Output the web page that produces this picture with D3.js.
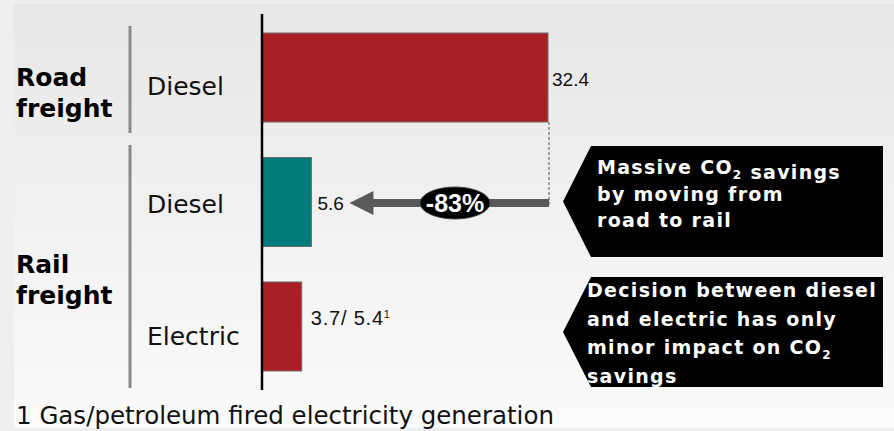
<!DOCTYPE html>
<html>
<head>
<meta charset="utf-8">
<script src="https://cdn.jsdelivr.net/npm/d3@7"></script>
<style>
  body { margin: 0; background: #efefef; }
  svg { display: block; }
</style>
</head>
<body>
<script>
// Data
let categories = ['Road Diesel', 'Rail Diesel', 'Rail Electric'];
let catLabels = ['Diesel', 'Diesel', 'Electric'];
let values = [32.4, 5.6, 4.5];
let valueLabels = ['32.4', '5.6', '3.7/ 5.4'];
let valueNotes = ['', '', '1'];
let barColors = ['#a81f26', '#007b7b', '#a81f26'];
let groups = [
  { name: ['Road', 'freight'], first: 'Road Diesel', last: 'Road Diesel' },
  { name: ['Rail', 'freight'], first: 'Rail Diesel', last: 'Rail Electric' }
];
let reduction = '-83%';
let callout1 = ['Massive CO|2| savings', 'by moving from', 'road to rail'];
let callout2 = ['Decision between diesel', 'and electric has only', 'minor impact on CO|2', 'savings'];
let footnote = '1 Gas/petroleum fired electricity generation';

// SVG
let width = 894, height = 431;

let svg = d3.select('body')
  .append('svg')
  .attr('width', width)
  .attr('height', height);

let defs = svg.append('defs');
let grad = defs.append('linearGradient')
  .attr('id', 'bg')
  .attr('x1', 0).attr('y1', 0).attr('x2', 0).attr('y2', 1);
grad.append('stop').attr('offset', '0%').attr('stop-color', '#e7e7e7');
grad.append('stop').attr('offset', '100%').attr('stop-color', '#fbfbfb');

svg.append('rect')
  .attr('x', 14).attr('y', 4)
  .attr('width', 880).attr('height', 424)
  .attr('fill', 'url(#bg)');

// scales
let xScale = d3.scaleLinear()
  .domain([0, 32.4])
  .range([262, 548]);

let yScale = d3.scaleBand()
  .domain(categories)
  .range([15.25, 388.75])
  .paddingInner(0.285)
  .paddingOuter(0.1425);

let mid = c => yScale(c) + yScale.bandwidth() / 2;

// bars
svg.selectAll('rect.bar')
  .data(categories)
  .enter()
  .append('rect')
  .attr('class', 'bar')
  .attr('x', xScale(0))
  .attr('y', d => yScale(d))
  .attr('width', (d, i) => xScale(values[i]) - xScale(0))
  .attr('height', yScale.bandwidth())
  .attr('fill', (d, i) => barColors[i])
  .attr('stroke', '#6e6e6e')
  .attr('stroke-width', 1);

// axis line
svg.append('line')
  .attr('x1', xScale(0)).attr('x2', xScale(0))
  .attr('y1', 14).attr('y2', 390)
  .attr('stroke', '#000')
  .attr('stroke-width', 2.5);

// group separators and labels
let groupTop = [26, 145], groupBottom = [133, 388];
groups.forEach((g, i) => {
  svg.append('line')
    .attr('x1', 130).attr('x2', 130)
    .attr('y1', groupTop[i]).attr('y2', groupBottom[i])
    .attr('stroke', '#8a8a8a')
    .attr('stroke-width', 3);
  let cy = (mid(g.first) + mid(g.last)) / 2;
  let t = svg.append('text')
    .attr('x', 16)
    .attr('y', cy + 8.5)
    .style('font-family', 'DejaVu Sans')
    .style('font-weight', 'bold')
    .style('font-size', '25px')
    .attr('fill', '#000');
  t.append('tspan').attr('x', 16).attr('dy', 0).text(g.name[0]);
  t.append('tspan').attr('x', 16).attr('dy', 31).text(g.name[1]);
});

// category labels
let catShift = [17.5, 11, 18.5];
svg.selectAll('text.cat')
  .data(categories)
  .enter()
  .append('text')
  .attr('class', 'cat')
  .attr('x', 147)
  .attr('y', (d, i) => mid(d) + catShift[i])
  .style('font-family', 'DejaVu Sans')
  .style('font-size', '25px')
  .attr('fill', '#111')
  .text((d, i) => catLabels[i]);

// value labels
let valShift = [8.5, 8, -1.5];
let valGap = [4, 6, 9];
let vl = svg.selectAll('text.val')
  .data(categories)
  .enter()
  .append('text')
  .attr('class', 'val')
  .attr('x', (d, i) => xScale(values[i]) + valGap[i])
  .attr('y', (d, i) => mid(d) + valShift[i])
  .style('font-family', 'Liberation Sans, Arial, sans-serif')
  .style('font-size', (d, i) => i === 2 ? '20px' : '19px')
  .style('letter-spacing', (d, i) => i === 2 ? '0.8px' : '0px')
  .attr('fill', '#111');
vl.append('tspan').text((d, i) => valueLabels[i]);
vl.append('tspan')
  .attr('dy', -7)
  .style('font-size', '11px')
  .text((d, i) => valueNotes[i]);

// reduction arrow
let ay = mid('Rail Diesel') + 1;
let xEnd = xScale(values[0]) + 1;
svg.append('line')
  .attr('x1', xEnd).attr('x2', xEnd)
  .attr('y1', yScale('Road Diesel') + yScale.bandwidth())
  .attr('y2', ay + 4)
  .attr('stroke', '#555')
  .attr('stroke-width', 1)
  .attr('stroke-dasharray', '3,2');

let xTip = xScale(values[1]) + 38;
svg.append('line')
  .attr('x1', xEnd).attr('x2', xTip + 20)
  .attr('y1', ay).attr('y2', ay)
  .attr('stroke', '#595959')
  .attr('stroke-width', 8);
svg.append('path')
  .attr('d', `M${xTip},${ay} L${xTip + 24},${ay - 12} L${xTip + 24},${ay + 12} Z`)
  .attr('fill', '#595959');

svg.append('ellipse')
  .attr('cx', 455).attr('cy', ay)
  .attr('rx', 35).attr('ry', 16)
  .attr('fill', '#000')
  .attr('stroke', '#444')
  .attr('stroke-width', 1);
svg.append('text')
  .attr('x', 455).attr('y', ay + 9)
  .attr('text-anchor', 'middle')
  .style('font-family', 'Liberation Sans, Arial, sans-serif')
  .style('font-weight', 'bold')
  .style('font-size', '25px')
  .attr('fill', '#fff')
  .text(reduction);

// callouts
function callout(top, bottom, lines, tx, ty, lh) {
  let cy = (top + bottom) / 2;
  svg.append('path')
    .attr('d', `M563,${cy} L591,${top} L883,${top} L883,${bottom} L591,${bottom} Z`)
    .attr('fill', '#000');
  let t = svg.append('text')
    .style('font-family', 'DejaVu Sans')
    .style('font-weight', 'bold')
    .style('font-size', '19px')
    .style('letter-spacing', '1.3px')
    .attr('fill', '#fff');
  lines.forEach((line, i) => {
    let parts = line.split('|');
    let row = t.append('tspan').attr('x', tx).attr('y', ty + i * lh);
    parts.forEach((p, j) => {
      if (j % 2 === 1) {
        row.append('tspan').attr('dy', 5).style('font-size', '12px').text(p);
        row.append('tspan').attr('dy', -5).text('');
      } else {
        row.append('tspan').text(p);
      }
    });
  });
}
callout(146, 257, callout1, 597, 174, 26.5);
callout(277, 387, callout2, 587, 297, 28.5);

// footnote
svg.append('text')
  .attr('x', 16).attr('y', 424)
  .style('font-family', 'DejaVu Sans')
  .style('font-size', '24.5px')
  .attr('fill', '#111')
  .text(footnote);
</script>
</body>
</html>
